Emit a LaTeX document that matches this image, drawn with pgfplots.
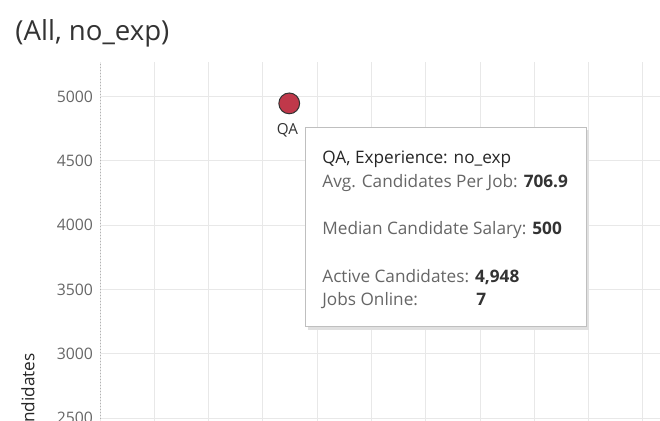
\documentclass[border=0pt]{standalone}
\usepackage{fontspec}
\setmainfont{Open Sans}
\usepackage{pgfplots}
\pgfplotsset{compat=1.18}
\definecolor{gridc}{HTML}{E8E8E8}
\definecolor{tickc}{HTML}{666666}
\definecolor{dark}{HTML}{333333}
\definecolor{lab}{HTML}{666666}
\definecolor{dotc}{HTML}{C0384A}
\begin{document}
\begin{tikzpicture}[x=0.5pt,y=0.5pt]
\useasboundingbox (0,0) rectangle (660,421);
\clip (0,0) rectangle (660,421);
\begin{axis}[
  at={(50pt,179.5pt)}, anchor=north west,
  scale only axis, width=300pt, height=189pt,
  xmin=0, xmax=2210, ymin=2330, ymax=5270,
  xtick distance=200, ytick distance=500,
  xticklabels={}, 
  grid=major, major grid style={gridc, line width=0.5pt},
  axis line style={draw=none},
  tick style={draw=none},
  yticklabel style={font=\fontsize{7.9}{9}\selectfont, text=tickc},
  /pgf/number format/assume math mode=true,
  /pgf/number format/1000 sep={},
  ylabel={}, clip=false,
]
\draw[gray!60, densely dotted, line width=0.5pt] (rel axis cs:0,0) -- (rel axis cs:0,1);
\addplot[only marks, mark=*, mark size=5.2pt, mark options={fill=dotc, draw=black!80, line width=0.5pt}]
  coordinates {(697,4948)};
\node[font=\fontsize{7.6}{9}\selectfont, text=dark] at (axis cs:690,4740) {QA};
\end{axis}
% title
\node[anchor=west, inner sep=0pt, font=\fontsize{13.8}{16}\selectfont, text=dark] at (15,388) {(All, no\_exp)};
% y label (cut at the edge, as in the reference)
\node[rotate=90, anchor=east, inner sep=0pt, font=\fontsize{8.6}{10}\selectfont, text=black!85] at (28,68) {Active Candidates};
% tooltip
\fill[black!12] (308,291) rectangle (589,91);
\draw[black!25, fill=white, line width=0.5pt] (305,293) rectangle (586,94);
\begin{scope}[every node/.style={anchor=base west, inner sep=0pt, font=\fontsize{8.6}{10}\selectfont}]
\node[text=black!85] at (322,257) {QA, Experience: no\_exp};
\node[text=lab] at (322,233) {Avg. Candidates Per Job: \textcolor{dark}{\bfseries 706.9}};
\node[text=lab] at (322,186) {Median Candidate Salary: \textcolor{dark}{\bfseries 500}};
\node[text=lab] at (322,138) {Active Candidates: \textcolor{dark}{\bfseries 4,948}};
\node[text=lab] at (322,115) {Jobs Online:};
\node[text=dark, font=\fontsize{8.6}{10}\selectfont\bfseries] at (476,115) {7};
\end{scope}
\end{tikzpicture}
\end{document}
